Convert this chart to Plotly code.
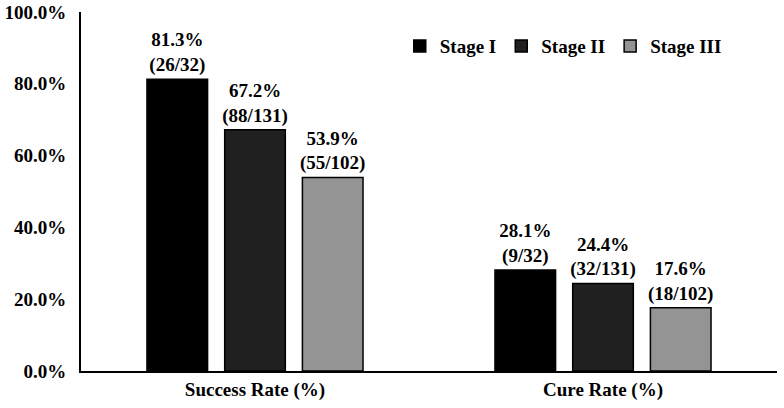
import plotly.graph_objects as go

categories = ["Success Rate (%)", "Cure Rate (%)"]
series_names = ["Stage I", "Stage II", "Stage III"]
values = {
    "Stage I": [81.3, 28.1],
    "Stage II": [67.2, 24.4],
    "Stage III": [53.9, 17.6],
}
counts = {
    "Stage I": ["26/32", "9/32"],
    "Stage II": ["88/131", "32/131"],
    "Stage III": ["55/102", "18/102"],
}
colors = {"Stage I": "#000000", "Stage II": "#202020", "Stage III": "#949494"}
y_ticks = [0, 20, 40, 60, 80, 100]

font_family = "Liberation Serif, Times New Roman, serif"
fs = 19

fig = go.Figure()
for name in series_names:
    fig.add_trace(go.Bar(
        name=f"<b>{name}</b>",
        x=categories,
        y=values[name],
        text=[f"<b>{v:.1f}%<br>({c})</b>" for v, c in zip(values[name], counts[name])],
        textposition="outside",
        constraintext="none",
        textfont=dict(family=font_family, size=fs, color="#000000"),
        marker=dict(color=colors[name], line=dict(color="#000000", width=1.5)),
        cliponaxis=False,
    ))

fig.update_layout(
    width=784, height=408,
    margin=dict(l=81, r=7, t=12, b=37, autoexpand=False),
    paper_bgcolor="white", plot_bgcolor="white",
    barmode="group", bargap=0.33, bargroupgap=0.22,
    font=dict(family=font_family, size=fs, color="#000000"),
    legend=dict(
        orientation="h", x=0.458, y=0.905, xanchor="left", yanchor="middle",
        font=dict(family=font_family, size=fs, color="#000000"),
        itemwidth=30, traceorder="normal", tracegroupgap=0,
    ),
)
fig.update_xaxes(
    showline=True, linecolor="#000000", linewidth=2,
    ticks="", showgrid=False, range=[-0.5, 1.5], automargin=False,
    tickfont=dict(family=font_family, size=fs, color="#000000"),
    ticklabelstandoff=0, ticklabeloverflow="allow",
    tickprefix="<b>", ticksuffix="</b>",
)
fig.update_yaxes(
    range=[0, 100], tickvals=y_ticks,
    ticktext=[f"<b>{t:.1f}%</b>" for t in y_ticks],
    showline=True, linecolor="#000000", linewidth=2,
    ticks="", showgrid=False, zeroline=False, automargin=False,
    tickfont=dict(family=font_family, size=fs, color="#000000"),
    ticklabelstandoff=9, ticklabeloverflow="allow",
)

fig.write_html(
    "out.html",
    config={"displayModeBar": False},
    post_script="document.body.style.margin='0';",
)
